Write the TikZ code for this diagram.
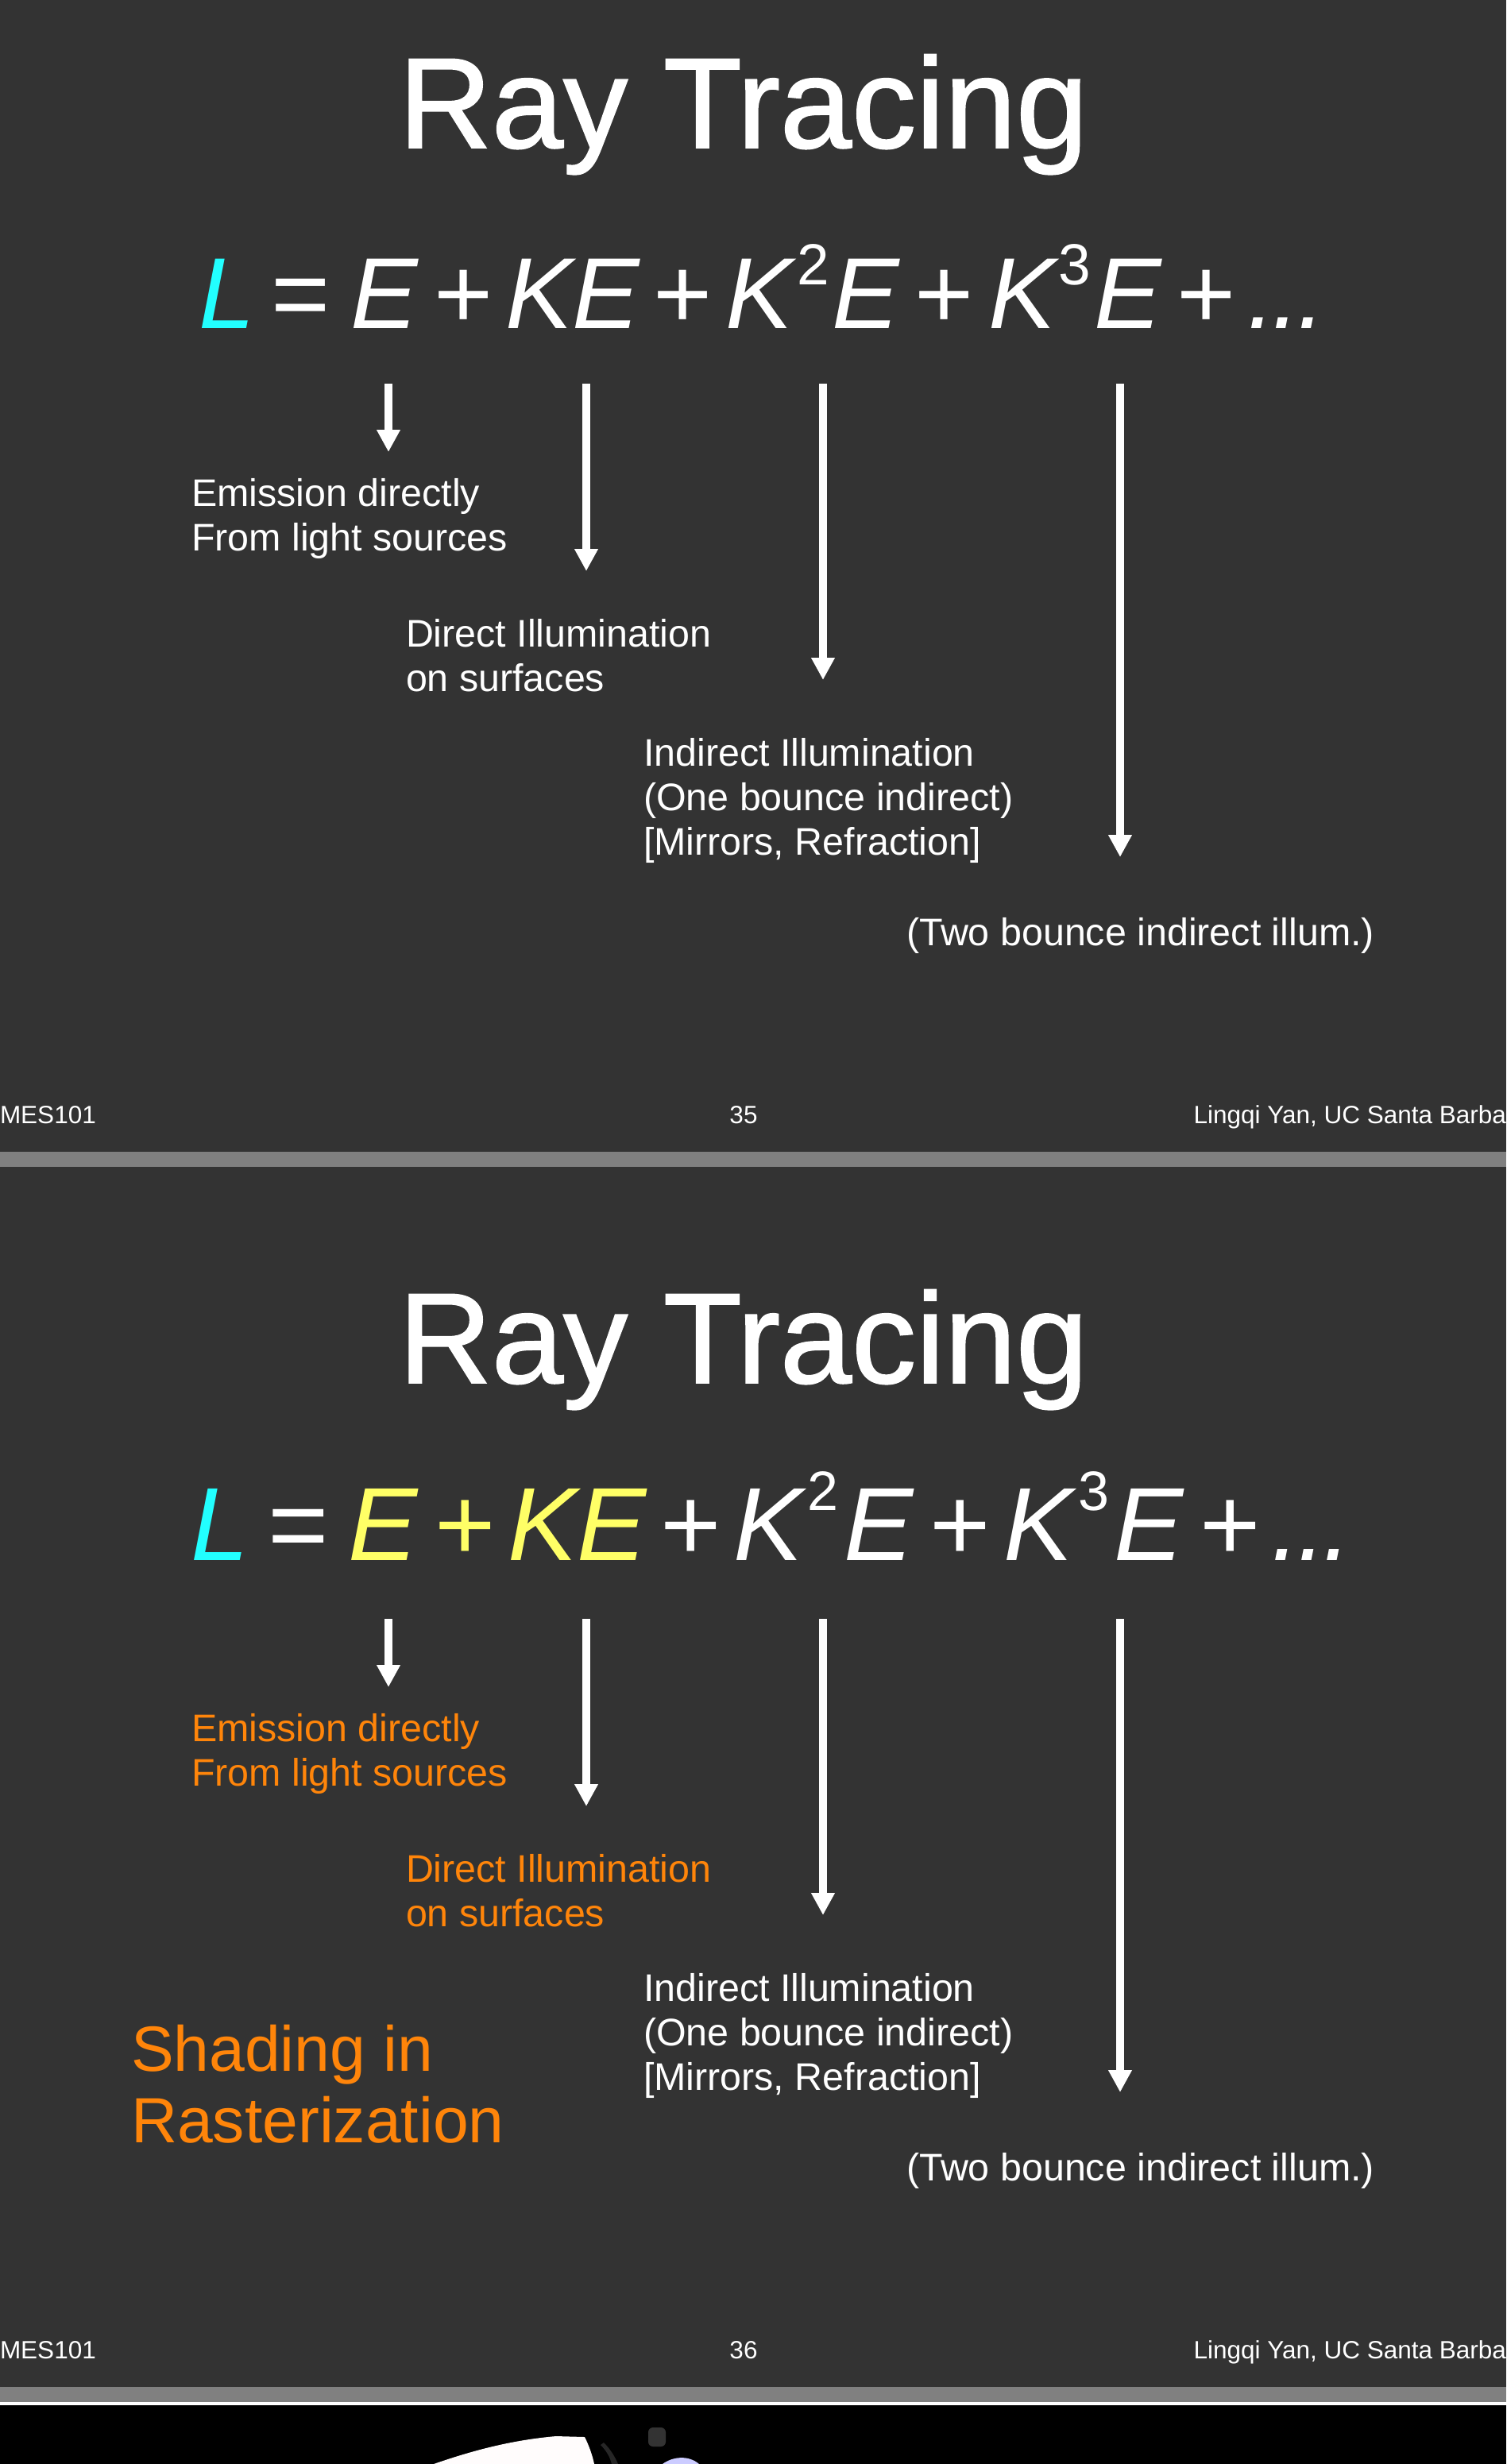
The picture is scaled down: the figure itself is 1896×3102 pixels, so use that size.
\documentclass[tikz,border=0pt]{standalone}
\usepackage{fontspec}
\setmainfont{Liberation Sans}
\newfontfamily\titlefont[FakeBold=1.2]{Liberation Sans}
\usetikzlibrary{arrows.meta}
\definecolor{bg}{HTML}{333333}
\definecolor{band}{HTML}{808080}
\definecolor{cyanL}{HTML}{22FFFF}
\definecolor{yel}{HTML}{FFFF66}
\definecolor{org}{HTML}{FF850A}
\newcommand{\fsz}[2]{\fontsize{#1}{#2}\selectfont}
\tikzset{
  base/.style={anchor=base west, inner sep=0pt, outer sep=0pt, text=white},
  ttl/.style={base, font=\titlefont\fsz{162}{162}},
  lbl/.style={base, font=\fsz{48.4}{56}},
  big/.style={base, font=\fsz{80.5}{90}},
  foot/.style={base, font=\fsz{31.5}{34}},
  eqA/.style={base, font=\fsz{127}{127}\itshape},
  eqAu/.style={base, font=\fsz{127}{127}},
  supA/.style={base, font=\fsz{73}{73}},
  eqB/.style={base, font=\fsz{131}{131}\itshape},
  eqBu/.style={base, font=\fsz{131}{131}},
  supB/.style={base, font=\fsz{70}{70}},
  arr/.style={draw=white, line width=10pt, -{Triangle[width=28pt,length=28pt]}},
}
\begin{document}
\begin{tikzpicture}[x=1pt,y=-1pt]
\useasboundingbox (0,0) rectangle (1896,3102);
% backgrounds
\fill[bg] (0,0) rectangle (1896,3005);
\fill[band] (0,1450) rectangle (1896,1469);
\fill[band] (0,3005) rectangle (1896,3024);
\fill[white] (0,3024) rectangle (1896,3028);
\fill[black] (0,3028) rectangle (1896,3102);
% partial image at the bottom
\fill[white!95!pink] (546,3102) .. controls (592,3086) and (642,3072) .. (700,3067) -- (736,3068) .. controls (742,3080) and (746,3092) .. (748,3102) -- cycle;
\fill[black!80, rounded corners=6pt] (816,3056) rectangle (838,3080);
\fill[white!80!blue] (834,3102) .. controls (846,3093) and (866,3090) .. (880,3102) -- cycle;
\fill[black!85] (760,3075) .. controls (770,3085) and (775,3095) .. (778,3102) -- (770,3102) .. controls (768,3094) and (764,3086) .. (756,3078) -- cycle;

% ================= Slide 1 =================
\node[ttl] (t1) at (502,186) {Ray Tracing};
% equation
\node[eqA, text=cyanL] (a1L) at (250,413) {L};
\node[eqAu] (a1eq) at (341,413) {=};
\node[eqA] (a1E) at (441,413) {E};
\node[eqAu] (a1p1) at (546,413) {+};
\node[eqA] (a1KE) at (636,413) {KE};
\node[eqAu] (a1p2) at (822,413) {+};
\node[eqA] (a1K2) at (913,413) {K};
\node[supA] (a1s2) at (1003,358) {2};
\node[eqA] (a1E2) at (1047,413) {E};
\node[eqAu] (a1p3) at (1151,413) {+};
\node[eqA] (a1K3) at (1244,413) {K};
\node[supA] (a1s3) at (1332,358) {3};
\node[eqA] (a1E3) at (1377,413) {E};
\node[eqAu] (a1p4) at (1481,413) {+};
\node[eqA] (a1dots) at (1570,413) {.\kern-3.5pt.\kern-3.5pt.};
% arrows
\coordinate (s1a) at (489,483); \coordinate (e1a) at (489,569);
\coordinate (s1b) at (738,483); \coordinate (e1b) at (738,719);
\coordinate (s1c) at (1036,483); \coordinate (e1c) at (1036,856);
\coordinate (s1d) at (1410,483); \coordinate (e1d) at (1410,1079);
\draw[arr] (s1a) -- (e1a);
\draw[arr] (s1b) -- (e1b);
\draw[arr] (s1c) -- (e1c);
\draw[arr] (s1d) -- (e1d);
% labels
\node[lbl] (l1a) at (241,637) {Emission directly};
\node[lbl] (l1b) at (241,693) {From light sources};
\node[lbl] (l1c) at (511,814) {Direct Illumination};
\node[lbl] (l1d) at (511,870) {on surfaces};
\node[lbl] (l1e) at (810,964) {Indirect Illumination};
\node[lbl] (l1f) at (810,1020) {(One bounce indirect)};
\node[lbl] (l1g) at (810,1076) {[Mirrors, Refraction]};
\node[lbl] (l1h) at (1141,1190) {(Two bounce indirect illum.)};
% footer
\node[foot] (f1a) at (0,1414) {MES101};
\node[foot, anchor=base] (f1b) at (936,1414) {35};
\node[foot, anchor=base east] (f1c) at (1896,1414) {Lingqi Yan, UC Santa Barba};

% ================= Slide 2 =================
\node[ttl] (t2) at (502,1741) {Ray Tracing};
% equation
\node[eqB, text=cyanL] (b2L) at (240,1964) {L};
\node[eqBu] (b2eq) at (337,1964) {=};
\node[eqB, text=yel] (b2E) at (438,1964) {E};
\node[eqBu, text=yel] (b2p1) at (547,1964) {+};
\node[eqB, text=yel] (b2KE) at (639,1964) {KE};
\node[eqBu] (b2p2) at (831,1964) {+};
\node[eqB] (b2K2) at (923,1964) {K};
\node[supB] (b2s2) at (1016,1901) {2};
\node[eqB] (b2E2) at (1062,1964) {E};
\node[eqBu] (b2p3) at (1170,1964) {+};
\node[eqB] (b2K3) at (1263,1964) {K};
\node[supB] (b2s3) at (1357,1901) {3};
\node[eqB] (b2E3) at (1402,1964) {E};
\node[eqBu] (b2p4) at (1510,1964) {+};
\node[eqB] (b2dots) at (1600,1964) {.\kern-3.5pt.\kern-3.5pt.};
% arrows
\coordinate (s2a) at (489,2038); \coordinate (e2a) at (489,2124);
\coordinate (s2b) at (738,2038); \coordinate (e2b) at (738,2274);
\coordinate (s2c) at (1036,2038); \coordinate (e2c) at (1036,2411);
\coordinate (s2d) at (1410,2038); \coordinate (e2d) at (1410,2634);
\draw[arr] (s2a) -- (e2a);
\draw[arr] (s2b) -- (e2b);
\draw[arr] (s2c) -- (e2c);
\draw[arr] (s2d) -- (e2d);
% labels
\node[lbl, text=org] (l2a) at (241,2192) {Emission directly};
\node[lbl, text=org] (l2b) at (241,2248) {From light sources};
\node[lbl, text=org] (l2c) at (511,2369) {Direct Illumination};
\node[lbl, text=org] (l2d) at (511,2425) {on surfaces};
\node[lbl] (l2e) at (810,2519) {Indirect Illumination};
\node[lbl] (l2f) at (810,2575) {(One bounce indirect)};
\node[lbl] (l2g) at (810,2631) {[Mirrors, Refraction]};
\node[lbl] (l2h) at (1141,2745) {(Two bounce indirect illum.)};
\node[big, text=org] (r2a) at (165,2607) {Shading in};
\node[big, text=org] (r2b) at (165,2697) {Rasterization};
% footer
\node[foot] (f2a) at (0,2969) {MES101};
\node[foot, anchor=base] (f2b) at (936,2969) {36};
\node[foot, anchor=base east] (f2c) at (1896,2969) {Lingqi Yan, UC Santa Barba};
\end{tikzpicture}
\end{document}
